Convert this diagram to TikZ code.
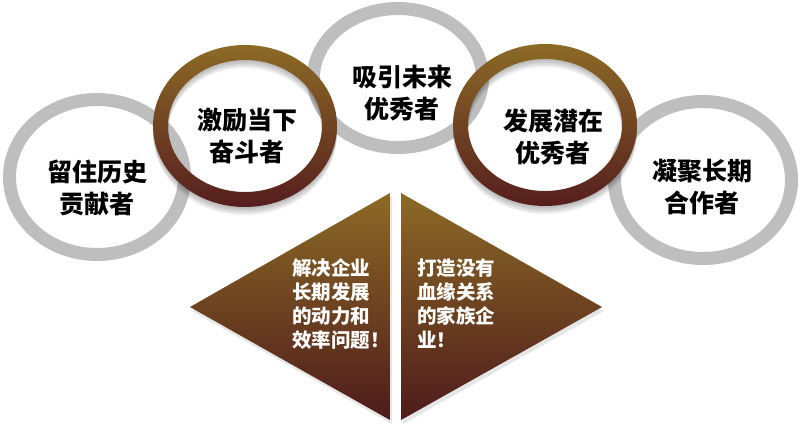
\documentclass[tikz,border=0pt]{standalone}
\usepackage{fontspec}
\newfontfamily\cjk{Noto Sans CJK SC}
\usetikzlibrary{shadows,calc}
\definecolor{ringgray}{HTML}{BEBEBE}
\definecolor{goldbrown}{HTML}{8C6A26}
\definecolor{darkmaroon}{HTML}{561E1E}

\begin{document}
\begin{tikzpicture}[x=1pt,y=-1pt,
  grayring/.style={fill=ringgray,even odd rule},
  ringshade/.style={fill=black,opacity=0.07,even odd rule},
  brownring/.style={top color=goldbrown,bottom color=darkmaroon},
  wedge/.style={top color=goldbrown,bottom color=darkmaroon!90!black,
                drop shadow={opacity=0.2,shadow xshift=2pt,shadow yshift=-4pt}},
  ringtext/.style={align=center,font=\cjk\bfseries\fontsize{25}{32}\selectfont,text=black},
  wedgetext/.style={align=left,anchor=west,inner sep=0pt,
                    font=\cjk\bfseries\fontsize{19.5}{24}\selectfont,text=white}
]
\useasboundingbox (0,0) rectangle (800,437);
\coordinate (c1) at (97,177);
\coordinate (c2) at (245,126);
\coordinate (c3) at (398,78);
\coordinate (c4) at (545,125);
\coordinate (c5) at (703,180);

\fill[grayring] (c1) ellipse [x radius=94,y radius=84] (c1) ellipse [x radius=81,y radius=71];
\fill[grayring] (c3) ellipse [x radius=91,y radius=76] (c3) ellipse [x radius=78,y radius=63];
\fill[grayring] (c5) ellipse [x radius=95,y radius=85] (c5) ellipse [x radius=82,y radius=72];

\foreach \c in {c2,c4} {
  \foreach \d in {2,4,6,8}
    \fill[ringshade] ($(\c)+(0,\d)$) ellipse [x radius=92,y radius=81]
                     ($(\c)+(0,\d)$) ellipse [x radius=77,y radius=66];
  \begin{scope}[even odd rule]
    \clip (\c) ellipse [x radius=92,y radius=81] (\c) ellipse [x radius=77,y radius=66];
    \shade[brownring] (\c) ellipse [x radius=92,y radius=81];
  \end{scope}
}

\node[ringtext] (keep)    at (97,188)  {留住历史\\贡献者};
\node[ringtext] (inspire) at (247,136) {激励当下\\奋斗者};
\node[ringtext] (attract) at (402,93)  {吸引未来\\优秀者};
\node[ringtext] (develop) at (553,137) {发展潜在\\优秀者};
\node[ringtext] (unite)   at (702,187) {凝聚长期\\合作者};

\shade[wedge] (390,193) -- (390,420) -- (190,307) -- cycle;
\shade[wedge] (401,193) -- (401,420) -- (602,307) -- cycle;

\node[wedgetext] (solve) at (292,304) {解决企业\\长期发展\\的动力和\\效率问题！};
\node[wedgetext] (build) at (417,304) {打造没有\\血缘关系\\的家族企\\业！};
\end{tikzpicture}
\end{document}
